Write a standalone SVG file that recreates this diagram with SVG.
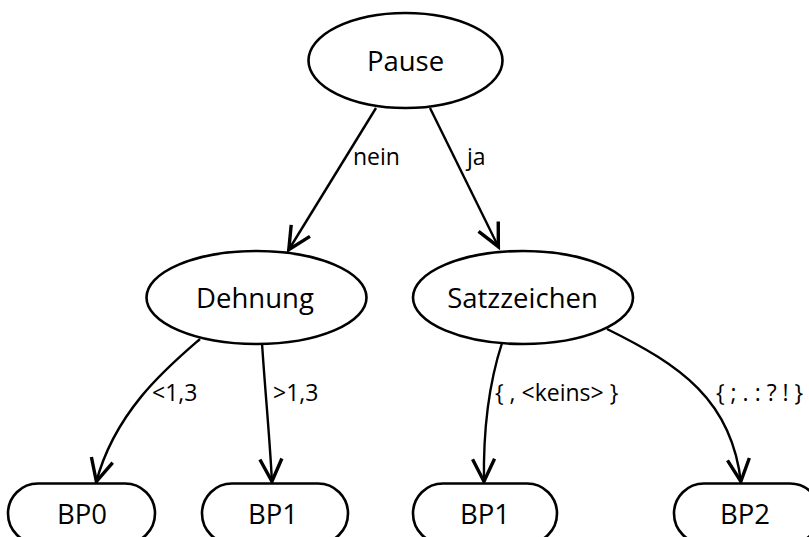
<svg xmlns="http://www.w3.org/2000/svg" width="809" height="537" viewBox="0 0 809 537">
  <style>
    .node { fill: #ffffff; stroke: #000000; stroke-width: 2.6; }
    .ntext { font-family: "Open Sans", "Noto Sans", sans-serif; font-size: 27.5px; fill: #000000; text-anchor: middle; }
    .edge { fill: none; stroke: #000000; stroke-width: 2.4; marker-end: url(#arrow); }
    .etext { font-family: "Open Sans", "Noto Sans", sans-serif; font-size: 23px; fill: #000000; }
  </style>
  <defs>
    <marker id="arrow" markerUnits="userSpaceOnUse" markerWidth="40" markerHeight="40" viewBox="-30 -20 40 40" refX="0" refY="0" orient="auto" overflow="visible">
      <path d="M-24,-11 L-1.5,0 L-24,11" fill="none" stroke="#000000" stroke-width="3.4" stroke-linejoin="miter"/>
    </marker>
  </defs>
  <rect width="809" height="537" fill="#ffffff"/>

  <g id="edges">
    <path class="edge" d="M376,108 L288,251"/>
    <path class="edge" d="M430,108 L499,248"/>
    <path class="edge" d="M200,339 C170,365 115,410 96,483"/>
    <path class="edge" d="M262,343 C265,390 270,440 272,483"/>
    <path class="edge" d="M502,343 C490,380 483,430 484,483"/>
    <path class="edge" d="M607,329 C680,365 732,400 741,483"/>
    <text class="etext" x="353" y="165">nein</text>
    <text class="etext" x="467" y="165">ja</text>
    <text class="etext" x="152" y="401">&lt;1,3</text>
    <text class="etext" x="273" y="401">&gt;1,3</text>
    <text class="etext" x="495" y="401">{ , &lt;keins&gt; }</text>
    <text class="etext" x="716" y="401">{ ; . : ? ! }</text>
  </g>

  <g id="pause">
    <ellipse class="node" cx="405.5" cy="60.5" rx="97" ry="47.5"/>
    <text class="ntext" x="405.5" y="71">Pause</text>
  </g>
  <g id="dehnung">
    <ellipse class="node" cx="256.5" cy="297.5" rx="110" ry="46.5"/>
    <text class="ntext" x="255" y="308">Dehnung</text>
  </g>
  <g id="satzzeichen">
    <ellipse class="node" cx="523" cy="297.5" rx="110" ry="46.5"/>
    <text class="ntext" x="522.5" y="308">Satzzeichen</text>
  </g>
  <g id="bp0">
    <rect class="node" x="8" y="483.5" width="147" height="60" rx="30" ry="30"/>
    <text class="ntext" x="82" y="524">BP0</text>
  </g>
  <g id="bp1a">
    <rect class="node" x="202" y="483.5" width="146" height="60" rx="30" ry="30"/>
    <text class="ntext" x="273" y="524">BP1</text>
  </g>
  <g id="bp1b">
    <rect class="node" x="413" y="483.5" width="144" height="60" rx="30" ry="30"/>
    <text class="ntext" x="485" y="524">BP1</text>
  </g>
  <g id="bp2">
    <rect class="node" x="674" y="483.5" width="146" height="60" rx="30" ry="30"/>
    <text class="ntext" x="745" y="524">BP2</text>
  </g>
</svg>
